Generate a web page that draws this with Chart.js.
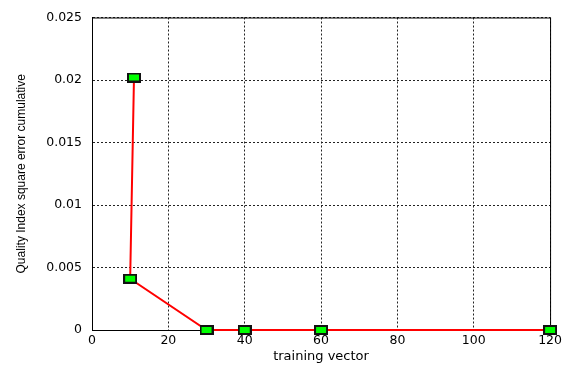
<!DOCTYPE html>
<html>
<head>
<meta charset="utf-8">
<script src="https://cdn.jsdelivr.net/npm/chart.js@4/dist/chart.umd.min.js"></script>
<style>
  html, body { margin: 0; padding: 0; background: #fff; }
  #wrap { width: 565px; height: 367px; }
</style>
</head>
<body>
<div id="wrap"><canvas id="c" width="565" height="367"></canvas></div>
<script>
// training vector sizes and the cumulative squared error of the quality index
const trainingVector = [11, 10, 30, 40, 60, 120];
const cumulativeError = [0.0202, 0.0041, 0.0, 0.0, 0.0, 0.0];

const xTicks = [0, 20, 40, 60, 80, 100, 120];
const yTicks = [0, 0.005, 0.01, 0.015, 0.02, 0.025];
const yTickLabels = ['0', '0.005', '0.01', '0.015', '0.02', '0.025'];

// green rectangular marker with a black outline
function makeMarker() {
  const m = document.createElement('canvas');
  m.width = 14; m.height = 10;
  const g = m.getContext('2d');
  g.fillStyle = '#111';
  g.fillRect(0, 0, 14, 10);
  g.fillStyle = '#00ff00';
  g.fillRect(2, 2, 10, 6);
  return m;
}

// closed black frame around the plot area
const frame = {
  id: 'frame',
  beforeDatasetsDraw(chart) {
    const { ctx, chartArea: a } = chart;
    ctx.save();
    ctx.strokeStyle = '#000';
    ctx.lineWidth = 1;
    ctx.strokeRect(a.left + 0.5, a.top + 0.5, a.right - a.left, a.bottom - a.top);
    ctx.restore();
  }
};

const tickFont = { family: 'DejaVu Sans', size: 12.5 };
const marker = makeMarker();

new Chart(document.getElementById('c'), {
  type: 'scatter',
  data: {
    datasets: [{
      data: trainingVector.map((x, i) => ({ x: x, y: cumulativeError[i] })),
      showLine: true,
      borderColor: '#ff0000',
      borderWidth: 2,
      pointStyle: marker,
      pointRadius: 7,
      clip: false
    }]
  },
  plugins: [frame],
  options: {
    responsive: false,
    animation: false,
    events: [],
    layout: { padding: { top: 15, right: 10, left: 0, bottom: 0 } },
    plugins: { legend: { display: false }, tooltip: { enabled: false } },
    scales: {
      x: {
        type: 'linear',
        min: 0, max: 120,
        afterFit(s) { s.height = 37; },
        afterBuildTicks(s) { s.ticks = xTicks.map(v => ({ value: v })); },
        grid: { color: '#222', lineWidth: 1, drawTicks: false },
        border: { display: true, color: '#000', width: 1, dash: [2, 2] },
        ticks: { color: '#000', font: tickFont, padding: 3, maxRotation: 0,
                 callback: v => String(v) },
        title: { display: true, text: 'training vector', color: '#000',
                 font: { family: 'DejaVu Sans', size: 13 }, padding: { top: 0, bottom: 3 } }
      },
      y: {
        type: 'linear',
        min: 0, max: 0.025,
        afterFit(s) { s.width = 92; },
        afterBuildTicks(s) { s.ticks = yTicks.map(v => ({ value: v })); },
        grid: { color: '#222', lineWidth: 1, drawTicks: false },
        border: { display: true, color: '#000', width: 1, dash: [2, 2] },
        ticks: { color: '#000', font: tickFont, padding: 10,
                 callback: (v, i) => yTickLabels[i] },
        title: { display: true, text: 'Quality Index square error cumulative', color: '#000',
                 font: { family: 'Liberation Sans', size: 12 }, padding: { top: 14, bottom: 0 } }
      }
    }
  }
});
</script>
</body>
</html>
